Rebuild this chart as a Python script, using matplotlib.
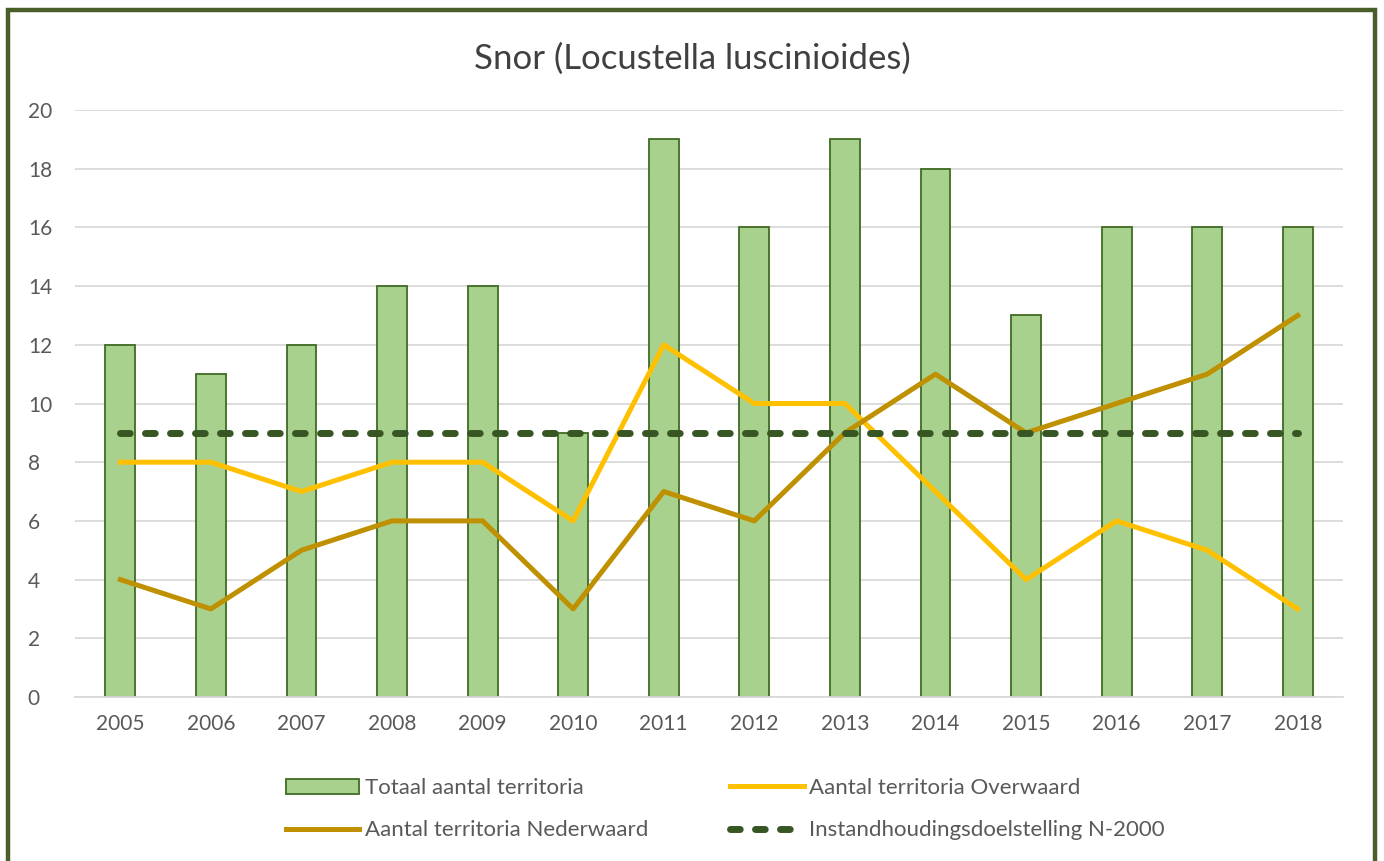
import numpy as np
import matplotlib
matplotlib.use('Agg')
import matplotlib.pyplot as plt
from matplotlib.patches import Rectangle

years = ['2005', '2006', '2007', '2008', '2009', '2010', '2011',
         '2012', '2013', '2014', '2015', '2016', '2017', '2018']
totaal = [12, 11, 12, 14, 14, 9, 19, 16, 19, 18, 13, 16, 16, 16]
overwaard = [8, 8, 7, 8, 8, 6, 12, 10, 10, 7, 4, 6, 5, 3]
nederwaard = [4, 3, 5, 6, 6, 3, 7, 6, 9, 11, 9, 10, 11, 13]
doel = [9] * len(years)

plt.rcParams['font.family'] = ['Lato', 'DejaVu Sans']
txt_color = '#595959'

fig = plt.figure(figsize=(13.84, 8.61), dpi=100)
ax = fig.add_axes([0.0542, 0.1905, 0.9162, 0.6817])

x = np.arange(len(years))
bars = ax.bar(x, totaal, width=0.33, color='#a9d18e', edgecolor='#3f6b22',
              linewidth=1.3, zorder=2, label='Totaal aantal territoria')
l_over, = ax.plot(x, overwaard, color='#ffc000', lw=3.6, zorder=3,
                  solid_joinstyle='round', label='Aantal territoria Overwaard')
l_neder, = ax.plot(x, nederwaard, color='#bf9000', lw=3.6, zorder=3,
                   solid_joinstyle='round', label='Aantal territoria Nederwaard')
l_doel, = ax.plot(x, doel, color='#375623', lw=5, ls=(0, (1.4, 2.2)),
                  dash_capstyle='round', zorder=4,
                  label='Instandhoudingsdoelstelling N-2000')

ax.set_xlim(-0.5, len(years) - 0.5)
ax.set_ylim(0, 20)
ax.set_yticks(np.arange(0, 21, 2))
ax.set_xticks(x)
ax.set_xticklabels(years)
ax.tick_params(axis='both', length=0, labelsize=15, colors=txt_color)
ax.tick_params(axis='x', pad=12)
ax.tick_params(axis='y', pad=34)
for lab in ax.get_yticklabels():
    lab.set_horizontalalignment('left')
ax.grid(axis='y', color='#d9d9d9', lw=1.3, zorder=0)
ax.set_axisbelow(True)
for s in ['top', 'right', 'left']:
    ax.spines[s].set_visible(False)
ax.spines['bottom'].set_color('#d9d9d9')
ax.spines['bottom'].set_linewidth(1.3)

fig.text(0.5, 0.932, 'Snor (Locustella luscinioides)', ha='center', va='center',
         fontsize=25, color='#404040')

fig.legend([bars, l_neder, l_over, l_doel],
           ['Totaal aantal territoria', 'Aantal territoria Nederwaard',
            'Aantal territoria Overwaard', 'Instandhoudingsdoelstelling N-2000'],
           ncol=2, loc='center', bbox_to_anchor=(0.524, 0.06), frameon=False,
           fontsize=16, labelcolor=txt_color, handlelength=3.3,
           handletextpad=0.25, columnspacing=3.7, labelspacing=1.0)

fig.patches.append(Rectangle((8 / 1384, -0.05), 1367 / 1384, 1.05 - 10 / 861,
                             transform=fig.transFigure, fill=False,
                             edgecolor='#4a5e2a', lw=3.2))

fig.savefig('out.png', dpi=100)
